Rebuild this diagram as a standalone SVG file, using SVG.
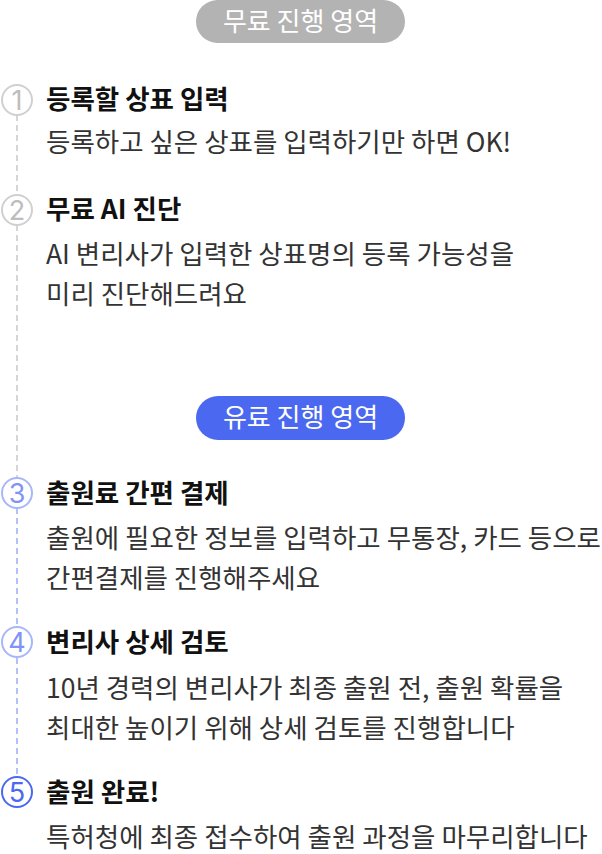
<svg xmlns="http://www.w3.org/2000/svg" width="602" height="854" viewBox="0 0 602 854">
<style>
.pill-t{font-family:"Noto Sans CJK KR","Noto Sans",sans-serif;font-size:26px;fill:#fff;text-anchor:middle}
.title{font-family:"Noto Sans CJK KR","Noto Sans",sans-serif;font-size:26.5px;font-weight:700;fill:#111}
.desc{font-family:"Noto Sans CJK KR","Noto Sans",sans-serif;font-size:26.5px;fill:#333}
.num{font-family:"Inter","Noto Sans",sans-serif;font-size:27px;font-weight:400;text-anchor:middle}
.g circle{fill:#fff;stroke:#d0d0d0;stroke-width:2}
.g .num{fill:#bdbdbd}
.b circle{fill:#fff;stroke:#a8b6fa;stroke-width:2}
.b .num{fill:#8094f6}
.s circle{fill:#fff;stroke:#4b69f0;stroke-width:2}
.s .num{fill:#4b69f0}
</style>
<rect width="602" height="854" fill="#fff"/>
<g id="connectors" stroke-width="2" stroke-dasharray="6 4" fill="none">
<line x1="17" y1="115" x2="17" y2="478" stroke="#d6d6d6"/>
<line x1="17" y1="508" x2="17" y2="777" stroke="#b4c0fa"/>
</g>
<g id="pill-free"><rect x="196" y="0" width="209" height="43" rx="21.5" fill="#b3b3b3"/><text class="pill-t" x="300.5" y="31">무료 진행 영역</text></g>
<g id="pill-paid"><rect x="196" y="396" width="209" height="44" rx="22" fill="#4b69f0"/><text class="pill-t" x="300.5" y="427">유료 진행 영역</text></g>
<g id="step1" class="g"><circle cx="17" cy="100" r="15"/><text class="num" x="17" y="109.8">1</text>
<text class="title" x="46" y="109">등록할 상표 입력</text>
<text class="desc" x="46" y="152">등록하고 싶은 상표를 입력하기만 하면 OK!</text></g>
<g id="step2" class="g"><circle cx="17" cy="210" r="15"/><text class="num" x="17" y="219.8">2</text>
<text class="title" x="46" y="219">무료 AI 진단</text>
<text class="desc" x="46" y="264">AI 변리사가 입력한 상표명의 등록 가능성을</text>
<text class="desc" x="46" y="304">미리 진단해드려요</text></g>
<g id="step3" class="b"><circle cx="17" cy="493" r="15"/><text class="num" x="17" y="502.8">3</text>
<text class="title" x="46" y="503">출원료 간편 결제</text>
<text class="desc" x="46" y="548">출원에 필요한 정보를 입력하고 무통장, 카드 등으로</text>
<text class="desc" x="46" y="588">간편결제를 진행해주세요</text></g>
<g id="step4" class="b"><circle cx="17" cy="642" r="15"/><text class="num" x="17" y="651.8">4</text>
<text class="title" x="46" y="652">변리사 상세 검토</text>
<text class="desc" x="46" y="698">10년 경력의 변리사가 최종 출원 전, 출원 확률을</text>
<text class="desc" x="46" y="738">최대한 높이기 위해 상세 검토를 진행합니다</text></g>
<g id="step5" class="s"><circle cx="17" cy="792" r="15"/><text class="num" x="17" y="801.8">5</text>
<text class="title" x="46" y="802">출원 완료!</text>
<text class="desc" x="46" y="847">특허청에 최종 접수하여 출원 과정을 마무리합니다</text></g>
</svg>
